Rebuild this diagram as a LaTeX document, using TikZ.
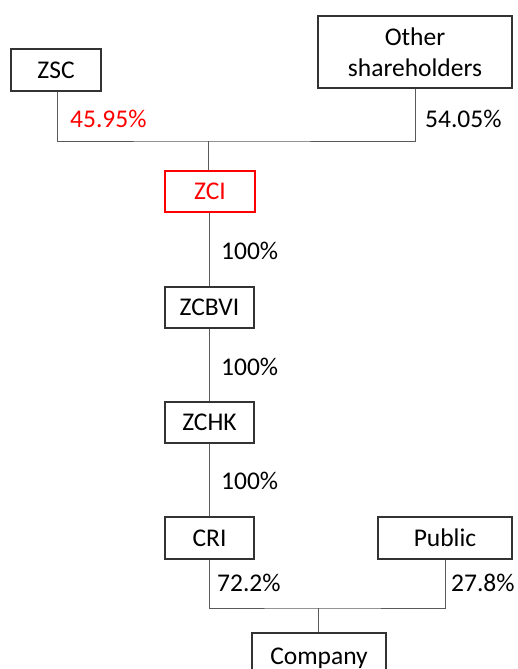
\documentclass[tikz,border=0pt]{standalone}
\usepackage{fontspec}
\setmainfont{Carlito}
\begin{document}
\begin{tikzpicture}[x=1pt,y=-1pt,
  box/.style={draw=black!80,line width=1.1pt,fill=white,inner sep=0pt,align=center,font=\fontsize{25.5}{30}\selectfont},
  lbl/.style={anchor=west,inner sep=0pt,font=\fontsize{25.5}{30}\selectfont},
  conn/.style={draw=black!65,line width=0.9pt}]
\useasboundingbox (0,0) rectangle (518,669);
\clip (0,0) rectangle (518,669);
% nodes
\node[box,minimum width=90pt,minimum height=42pt] (zsc) at (56,70) {ZSC};
\node[box,minimum width=194pt,minimum height=72pt] (oth) at (415,52) {Other\\[1pt]shareholders};
\node[box,draw=red,text=red,minimum width=90pt,minimum height=41pt] (zci) at (210,191.5) {ZCI};
\node[box,minimum width=89pt,minimum height=41pt] (zcbvi) at (209.5,307.5) {ZCBVI};
\node[box,minimum width=89pt,minimum height=41pt] (zchk) at (209.5,422.5) {ZCHK};
\node[box,minimum width=89pt,minimum height=42pt] (cri) at (209.5,538) {CRI};
\node[box,minimum width=134pt,minimum height=42pt] (pub) at (445,538) {Public};
\node[box,minimum width=134pt,minimum height=46pt,text depth=0pt] (comp) at (319,656) {Company};
% junctions
\coordinate (j1) at (208,141);
\coordinate (j2) at (318,608);
% connectors
\draw[conn] (zsc.south -| 57,0) |- (j1) -| (oth.south);
\draw[conn] (j1) -- (zci.north -| j1);
\draw[conn] (zci.south -| 209,0) -- (zcbvi.north -| 209,0);
\draw[conn] (zcbvi.south -| 209,0) -- (zchk.north -| 209,0);
\draw[conn] (zchk.south -| 209,0) -- (cri.north -| 209,0);
\draw[conn] (cri.south -| 209,0) |- (j2) -| (pub.south);
\draw[conn] (j2) -- (comp.north -| j2);
% labels
\node[lbl,text=red] (l1) at (70,119) {45.95\%};
\node[lbl] (l2) at (425,119) {54.05\%};
\node[lbl] (l3) at (221,251) {100\%};
\node[lbl] (l4) at (221,367) {100\%};
\node[lbl] (l5) at (221,481) {100\%};
\node[lbl] (l6) at (217,583) {72.2\%};
\node[lbl] (l7) at (451,583) {27.8\%};
\end{tikzpicture}
\end{document}
